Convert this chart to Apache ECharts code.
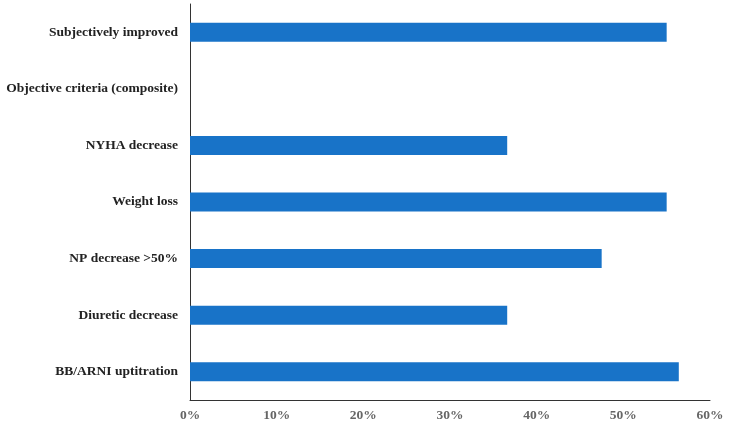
<!DOCTYPE html>
<html>
<head>
<meta charset="utf-8">
<script src="https://cdn.jsdelivr.net/npm/echarts@6/dist/echarts.min.js"></script>
<style>html,body{margin:0;padding:0;background:#fff;}#c{width:730px;height:427px;}</style>
</head>
<body>
<div id="c"></div>
<script>
const categories = ["Subjectively improved", "Objective criteria (composite)", "NYHA decrease", "Weight loss", "NP decrease >50%", "Diuretic decrease", "BB/ARNI uptitration"];
const values = [55.0, 0, 36.6, 55.0, 47.5, 36.6, 56.4];
const xTicks = [0, 10, 20, 30, 40, 50, 60];

const chart = echarts.init(document.getElementById('c'));
chart.setOption({
  animation: false,
  grid: { left: 190, right: 20, top: 4, bottom: 27, containLabel: false },
  xAxis: {
    type: 'value', min: xTicks[0], max: xTicks[xTicks.length - 1], interval: 10,
    axisLine: { show: true, lineStyle: { color: '#333', width: 1 } },
    axisTick: { show: false },
    splitLine: { show: false },
    axisLabel: {
      formatter: v => v + '%', margin: 9,
      fontFamily: 'Liberation Serif', fontWeight: 'bold', fontSize: 13.5, color: '#666'
    }
  },
  yAxis: {
    type: 'category', data: categories, inverse: true,
    axisLine: { show: true, lineStyle: { color: '#333', width: 1 } },
    axisTick: { show: false },
    axisLabel: {
      margin: 12, fontFamily: 'Liberation Serif', fontWeight: 'bold', fontSize: 13.5, color: '#222'
    }
  },
  series: [{
    type: 'bar', data: values, barWidth: 19,
    itemStyle: { color: '#1873C8' }
  }]
});
</script>
</body>
</html>
